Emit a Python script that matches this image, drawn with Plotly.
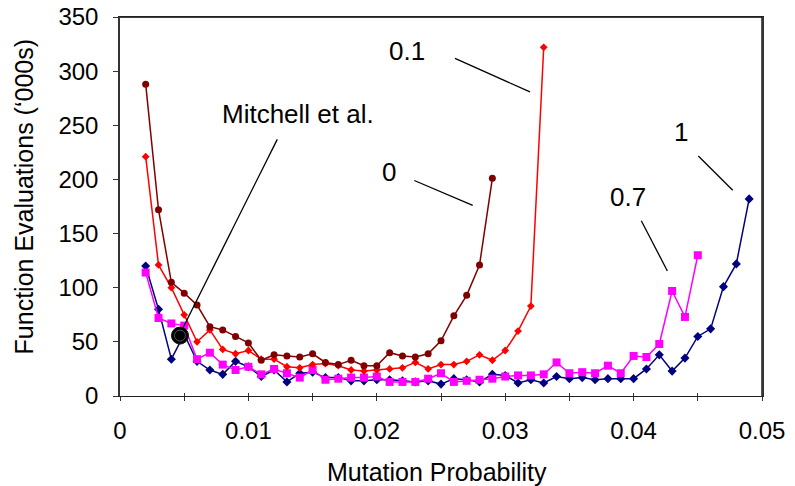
import plotly.graph_objects as go

# Mutation probabilities (x values)
mut_prob = [0.002, 0.003, 0.004, 0.005, 0.006, 0.007, 0.008, 0.009, 0.010,
            0.011, 0.012, 0.013, 0.014, 0.015, 0.016, 0.017, 0.018, 0.019, 0.020,
            0.021, 0.022, 0.023, 0.024, 0.025, 0.026, 0.027, 0.028, 0.029, 0.030,
            0.031, 0.032, 0.033, 0.034, 0.035, 0.036, 0.037, 0.038, 0.039, 0.040,
            0.041, 0.042, 0.043, 0.044, 0.045, 0.046, 0.047, 0.048, 0.049]

# Function evaluations ('000s) per series
series_0 = [288, 172, 105, 95, 84, 64, 61, 55, 49, 33, 38, 37, 36, 39, 31, 29,
            33, 28, 28, 40, 37, 36, 39, 51, 74, 93, 121, 201]
series_01 = [221, 121, 100, 75, 50, 61, 43, 39, 42, 34, 34, 27, 26, 29, 30, 28,
             24, 23, 24, 25, 26, 31, 25, 29, 29, 32, 38, 33, 42, 60, 83, 322]
series_07 = [114, 72, 67, 65, 34, 40, 29, 24, 27, 20, 25, 21, 17, 24, 15, 16,
             17, 17, 18, 13, 13, 13, 16, 21, 13, 14, 15, 16, 18, 19, 19, 20,
             31, 21, 22, 21, 28, 21, 37, 36, 48, 97, 73, 130]
series_1 = [120, 80, 34, 57, 32, 24, 20, 32, 27, 18, 24, 13, 21, 22, 17, 17,
            14, 14, 15, 15, 14, 13, 14, 11, 16, 15, 13, 20, 19, 12, 15, 12,
            18, 16, 17, 15, 16, 16, 16, 25, 38, 23, 35, 55, 62, 101, 122, 182]

# Mitchell et al. reference point
mitchell_x = [0.00467]
mitchell_y = [55.8]

# Tick values / axis ranges
x_range = [0, 0.05]
y_range = [0, 350]
y_ticks = [0, 50, 100, 150, 200, 250, 300, 350]
x_ticks = [0, 0.01, 0.02, 0.03, 0.04, 0.05]
x_tick_labels = ["0", "0.01", "0.02", "0.03", "0.04", "0.05"]
x_all_ticks = [0, 0.005, 0.01, 0.015, 0.02, 0.025, 0.03, 0.035, 0.04, 0.045, 0.05]
x_minor_ticks = [0.005, 0.015, 0.025, 0.035, 0.045]

# Labels with their leader lines (label x, label y, line x0, y0, x1, y1)
labels = ["0.1", "Mitchell et al.", "0", "0.7", "1"]
label_x = [0.02235, 0.0139, 0.02097, 0.03956, 0.04369]
label_y = [318.8, 260, 207, 184, 244]
leader_x0 = [0.02609, 0.01225, 0.02292, 0.0406, 0.04504]
leader_y0 = [311.8, 237, 199, 161.8, 221.6]
leader_x1 = [0.03193, 0.00491, 0.02747, 0.04263, 0.04772]
leader_y1 = [280.8, 63, 176, 115.5, 190]

FONT = "Liberation Sans, Arial, sans-serif"

fig = go.Figure()

fig.add_trace(go.Scatter(
    x=mut_prob[:len(series_1)], y=series_1, mode="lines+markers",
    line=dict(color="#000080", width=1.5),
    marker=dict(symbol="diamond", size=7, color="#000080"), name="1"))
fig.add_trace(go.Scatter(
    x=mut_prob[:len(series_07)], y=series_07, mode="lines+markers",
    line=dict(color="#FF00FF", width=1.5),
    marker=dict(symbol="square", size=8, color="#FF00FF"), name="0.7"))
fig.add_trace(go.Scatter(
    x=mut_prob[:len(series_01)], y=series_01, mode="lines+markers",
    line=dict(color="#FF0000", width=1.5),
    marker=dict(symbol="diamond", size=6, color="#FF0000"), name="0.1"))
fig.add_trace(go.Scatter(
    x=mut_prob[:len(series_0)], y=series_0, mode="lines+markers",
    line=dict(color="#800000", width=1.5),
    marker=dict(symbol="circle", size=7, color="#800000"), name="0"))

# Leader lines
for i in range(len(labels)):
    fig.add_trace(go.Scatter(
        x=[leader_x0[i], leader_x1[i]], y=[leader_y0[i], leader_y1[i]],
        mode="lines", line=dict(color="black", width=1.3),
        hoverinfo="skip", showlegend=False))

# Top and right frame lines of the plot area (along the axis range ends)
fig.add_trace(go.Scatter(
    x=[x_range[0], x_range[1], x_range[1]], y=[y_range[1], y_range[1], y_range[0]],
    mode="lines", line=dict(color="black", width=1.3), cliponaxis=False,
    hoverinfo="skip", showlegend=False))

# Mitchell point
fig.add_trace(go.Scatter(
    x=mitchell_x, y=mitchell_y, mode="markers",
    marker=dict(symbol="circle", size=17, color="black",
                line=dict(color="#111111", width=1)), showlegend=False))
fig.add_trace(go.Scatter(
    x=mitchell_x, y=mitchell_y, mode="markers",
    marker=dict(symbol="circle-open", size=11, color="#555555",
                line=dict(color="#555555", width=1)), showlegend=False))

# invisible trace on the overlay axis so its inside ticks are drawn
fig.add_trace(go.Scatter(x=[x_all_ticks[0]], y=[y_ticks[0]], xaxis="x2",
                         mode="markers", marker=dict(opacity=0),
                         hoverinfo="skip", showlegend=False))

for i in range(len(labels)):
    fig.add_annotation(x=label_x[i], y=label_y[i], text=labels[i],
                       showarrow=False, xanchor="center", yanchor="middle",
                       font=dict(family=FONT, size=26, color="black"))

# Axis titles
fig.add_annotation(xref="paper", yref="paper", x=0.493, y=-0.2005,
                   text="Mutation Probability", showarrow=False,
                   xanchor="center", yanchor="middle",
                   font=dict(family=FONT, size=25, color="black"))
fig.add_annotation(xref="paper", yref="paper", x=-0.1495, y=0.524,
                   text="Function Evaluations (\u2018000s)", showarrow=False,
                   textangle=-90, xanchor="center", yanchor="middle",
                   font=dict(family=FONT, size=25, color="black"))

fig.update_layout(
    width=795, height=486,
    margin=dict(l=120, r=33, t=17, b=90),
    paper_bgcolor="white", plot_bgcolor="white",
    showlegend=False,
    font=dict(family=FONT, color="black"),
    xaxis=dict(
        range=x_range, tickvals=x_ticks, ticktext=x_tick_labels,
        ticks="outside", ticklen=4, tickcolor="#333333", tickwidth=1.3,
        minor=dict(tickvals=x_minor_ticks,
                   ticks="outside", ticklen=4, tickcolor="#333333", tickwidth=1.3),
        showgrid=False, zeroline=False, automargin="bottom",
        showline=True, linecolor="#222222", linewidth=1.3, mirror=True,
        tickfont=dict(family=FONT, size=24, color="black"),
        ticklabelstandoff=9, ticklabeloverflow="allow",
    ),
    xaxis2=dict(
        range=x_range, overlaying="x", anchor="y", side="bottom",
        tickvals=x_all_ticks, ticks="inside", ticklen=3,
        tickcolor="#333333", tickwidth=1.3, showticklabels=False,
        showgrid=False, zeroline=False, showline=False, automargin="bottom",
    ),
    yaxis=dict(
        range=y_range, tickvals=y_ticks,
        ticks="outside", ticklen=5, tickcolor="#333333", tickwidth=1.3,
        showgrid=False, zeroline=False, automargin="left",
        showline=True, linecolor="#333333", linewidth=1.5, mirror=True,
        tickfont=dict(family=FONT, size=24, color="black"),
        ticklabelstandoff=10, ticklabeloverflow="allow",
    ),
)

# Remove the browser's default page margin so the figure fills the window.
fig.write_html(
    "out.html",
    config={"displayModeBar": False},
    post_script="document.body.style.margin='0';document.body.style.overflow='hidden';",
)
